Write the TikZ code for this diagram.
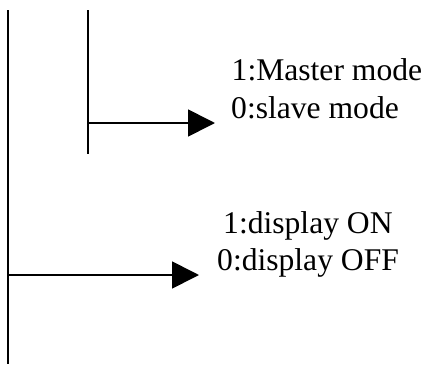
\documentclass[tikz,border=0pt]{standalone}
\usepackage{fontspec}
\setmainfont{Liberation Serif}
\usetikzlibrary{arrows.meta}
\tikzset{
  wire/.style={line width=1.7pt, line cap=butt},
  pointer/.style={wire, -{Triangle[length=27pt,width=27pt]}},
  lbl/.style={inner sep=0pt, anchor=base west, font=\fontsize{31.6}{37}\selectfont}
}
\begin{document}
\begin{tikzpicture}[x=1pt,y=-1pt]
\useasboundingbox (0,0) rectangle (428,364);
% vertical lines
\coordinate (atop) at (8,10);
\coordinate (abot) at (8,364);
\coordinate (btop) at (88,10);
\coordinate (bbot) at (88,154);
\draw[wire] (atop) -- (abot);
\draw[wire] (btop) -- (bbot);
% arrows
\coordinate (bj) at (88,123);
\coordinate (btip) at (215,123);
\coordinate (aj) at (8,275);
\coordinate (atip) at (199,275);
\draw[pointer] (bj) -- (btip);
\draw[pointer] (aj) -- (atip);
% labels
\node[lbl] (m1) at (231.5,80.7) {1:Master mode};
\node[lbl] (m0) at (231,118) {0:slave mode};
\node[lbl] (d1) at (223,233) {1:display ON};
\node[lbl] (d0) at (217,270) {0:display OFF};
\end{tikzpicture}
\end{document}
